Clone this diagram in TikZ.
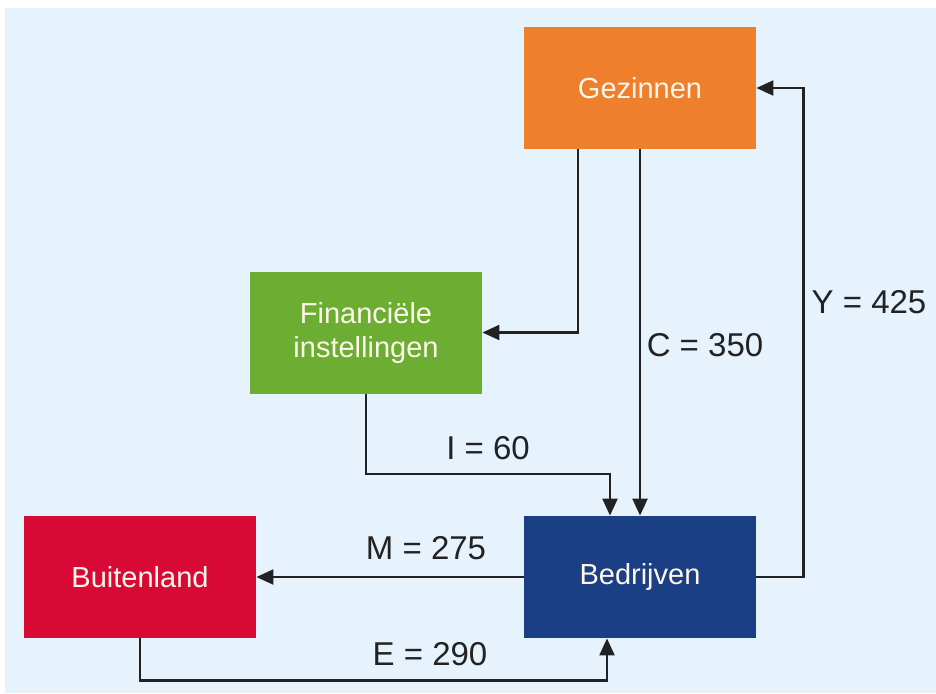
\documentclass[tikz,border=0pt]{standalone}
\usepackage{fontspec}
\setmainfont{Liberation Sans}
\usetikzlibrary{arrows.meta}
\definecolor{achtergrond}{HTML}{E6F3FC}
\definecolor{oranje}{HTML}{EE7F2D}
\definecolor{groen}{HTML}{6BAE32}
\definecolor{blauw}{HTML}{1A3F84}
\definecolor{rood}{HTML}{D80A35}
\definecolor{lijn}{HTML}{222222}
\definecolor{bloktekst}{HTML}{FFF6EC}
\begin{document}
\begin{tikzpicture}[x=0.5pt,y=-0.5pt,>={Triangle[length=8.5pt,width=7.5pt]},
    font=\fontsize{14.5}{17}\selectfont,
    blok/.style={rectangle,minimum width=116pt,minimum height=61pt,inner sep=0pt,
        align=center,text=bloktekst},
    stroom/.style={->,line width=1.1pt,draw=lijn},
    bedrag/.style={text=lijn,font=\fontsize{16.5}{19}\selectfont}]
    \useasboundingbox (0,0) rectangle (936,693);
    \fill[achtergrond] (5,8) rectangle (936,693);

    % sectoren
    \node[blok,fill=oranje] (gez) at (640,88) {Gezinnen};
    \node[blok,fill=groen] (fin) at (366,332.5) {Financiële\\instellingen};
    \node[blok,fill=blauw] (bed) at (640,577) {Bedrijven};
    \node[blok,fill=rood] (bui) at (140,577) {Buitenland};

    % geldstromen
    \draw[stroom] ([xshift=-31pt]gez.south) |- (fin.east);
    \draw[stroom] (gez.south) -- (bed.north);
    \draw[stroom] (fin.south) -- ++(0,80) -| ([xshift=-15pt]bed.north);
    \draw[stroom] (bed.east) -- ++(47,0) |- (gez.east);
    \draw[stroom] (bed.west) -- (bui.east);
    \draw[stroom] (bui.south) -- ++(0,42) -| ([xshift=-16.5pt]bed.south);

    % bedragen
    \node[bedrag] (c) at (705,345) {C = 350};
    \node[bedrag] (i) at (488,448) {I = 60};
    \node[bedrag] (y) at (869,302) {Y = 425};
    \node[bedrag] (m) at (426,548) {M = 275};
    \node[bedrag] (e) at (430,654) {E = 290};
\end{tikzpicture}
\end{document}
